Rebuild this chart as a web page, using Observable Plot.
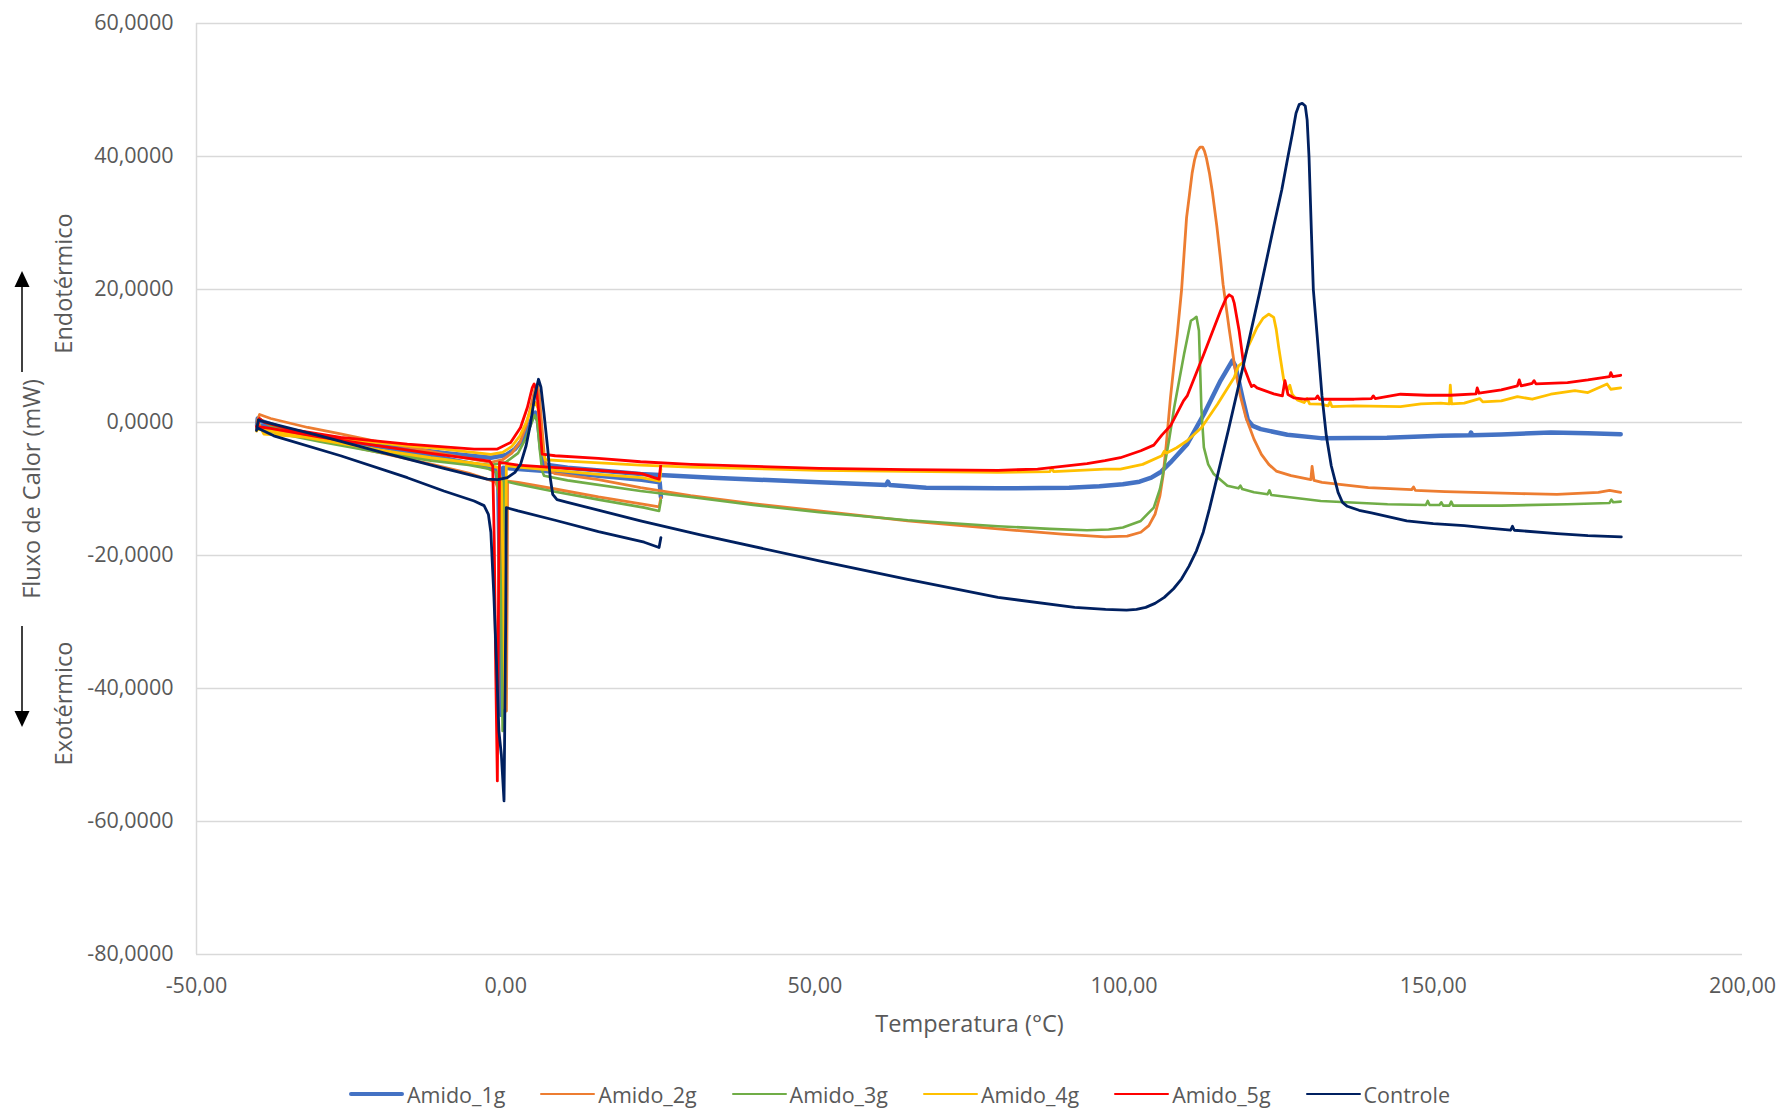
<!DOCTYPE html>
<html>
<head>
<meta charset="utf-8">
<script src="https://cdn.jsdelivr.net/npm/d3@7"></script>
<script src="https://cdn.jsdelivr.net/npm/@observablehq/plot@0.6"></script>
<style>
  body { margin: 0; background: #fff; font-family: "Open Sans", sans-serif; }
  #wrap { position: relative; width: 1782px; height: 1111px; overflow: hidden; }
  #legend { position: absolute; left: 0; top: 1077px; width: 1782px; height: 34px; }
  .item { position: absolute; top: 0; height: 34px; display: flex; align-items: center;
          font-size: 21.5px; color: #595959; white-space: nowrap; }
  .sw { display: inline-block; width: 55px; margin-right: 3px; border-radius: 2px; }
</style>
</head>
<body>
<div id="wrap"><div id="legend"></div></div>
<script>
// ---------------- DATA (temperature °C, heat flow mW), in acquisition order ----------------
const seriesNames = ["Amido_1g", "Amido_2g", "Amido_3g", "Amido_4g", "Amido_5g", "Controle"];
const seriesColors = ["#4472C4", "#ED7D31", "#70AD47", "#FFC000", "#FF0000", "#002060"];
const seriesWidths = [4.5, 2.8, 2.6, 2.8, 2.8, 2.8];

const xTicks = [-50, 0, 50, 100, 150, 200];
const yTicks = [-80, -60, -40, -20, 0, 20, 40, 60];

const amido1g = [
  [25.1,-11.2],[24.9,-9.0],[22,-8.6],[15,-8.0],[8,-7.4],[2,-7.0],[-0.4,-6.8],[-0.55,-25],[-0.7,-44],[-0.9,-26],[-1.2,-9],[-1.6,-7.0],[-5,-6.3],[-12,-5.0],[-20,-3.7],[-30,-2.2],[-38,-0.8],[-40.2,-0.4],
  [-40.1,0.6],[-39.5,0.2],[-35,-1.2],[-30,-2.0],[-20,-3.4],[-10,-4.6],[-2.4,-5.3],[0,-4.9],[1.5,-4.0],[2.8,-2.5],[3.8,-0.5],[4.5,1.2],[4.8,1.5],[5.2,0.3],[5.7,-4],[6.2,-6.3],[10,-6.8],[21.8,-7.75],[33.4,-8.3],[50.7,-9.0],[61.5,-9.4],[61.8,-8.9],[62.1,-9.4],[68,-9.8],[79.6,-9.9],[91.1,-9.8],[96,-9.6],[99.8,-9.3],[102.5,-8.9],[104.4,-8.3],[106,-7.4],[107.5,-6.0],[110.2,-3.25],[112.9,1.25],[115.6,6.3],[117.5,9.3],[118,8.5],[118.6,6.0],[119.2,3.5],[120,0.4],[120.8,-0.5],[122.1,-1.0],[126.4,-1.85],[131.8,-2.35],[142.5,-2.3],[151.2,-2.0],[155.9,-1.9],[156.1,-1.5],[156.3,-1.9],[161,-1.8],[169,-1.5],[175,-1.6],[180.3,-1.75]
];
const amido2g = [
  [25.1,-11.3],[24.8,-12.7],[22.4,-12.3],[15,-11.2],[8,-10.0],[2,-9.0],[0.3,-8.8],[0.25,-25],[0.12,-43.4],[-0.3,-25],[-0.9,-11],[-1.6,-9.0],[-2.4,-8.7],[-6,-7.6],[-12.1,-6.25],[-20,-4.6],[-30,-2.6],[-38,-1.0],[-40.2,-0.6],
  [-40.2,0.2],[-39.8,1.2],[-38,0.6],[-32,-0.75],[-26.7,-1.7],[-21.3,-2.75],[-15,-3.8],[-10,-4.75],[-5,-5.6],[-2.4,-6.0],[-0.5,-5.6],[1,-4.6],[2.3,-3.0],[3.3,-0.5],[4.2,3.0],[4.8,5.3],[5.1,5.6],[5.4,4.5],[5.8,0],[6.2,-4.5],[6.6,-7.0],[8,-7.7],[15,-8.6],[21.8,-9.8],[29.9,-11.0],[40,-12.2],[50.7,-13.3],[65,-14.8],[79.6,-16.0],[90,-16.8],[96.9,-17.2],[100.5,-17.1],[102.7,-16.5],[104,-15.5],[105,-13.8],[105.8,-11],[106.3,-8],[106.8,-3.5],[107.5,3.75],[108.1,9],[108.6,13.3],[109.3,20],[110.1,30.8],[110.6,34.5],[111,37.5],[111.4,39.5],[111.8,40.8],[112.3,41.4],[112.7,41.4],[113.0,40.8],[113.3,39.8],[113.8,37.5],[114.3,34.5],[115,29.5],[115.6,24.5],[116,20.8],[117,14],[117.9,8.3],[118.8,4],[119.7,0.75],[121,-2.5],[122.2,-4.8],[123.4,-6.3],[124.6,-7.3],[127,-8.0],[130.2,-8.6],[130.4,-6.6],[130.7,-8.7],[132,-9.0],[139.5,-9.8],[146.5,-10.1],[146.8,-9.7],[147.1,-10.2],[151.9,-10.4],[164.3,-10.7],[170,-10.8],[176.7,-10.5],[178.5,-10.2],[180.3,-10.5]
];
const amido3g = [
  [25.1,-11.7],[24.8,-13.3],[22.4,-12.8],[15,-11.6],[8,-10.4],[2,-9.3],[0.6,-9.0],[-0.3,-8.8],[-0.4,-25],[-0.5,-46.4],[-0.7,-30],[-1.0,-12],[-1.5,-7.5],[-3,-6.9],[-6,-6.4],[-12.1,-5.75],[-20,-4.6],[-30,-2.9],[-38,-1.4],[-40.2,-1.0],
  [-40.2,-0.4],[-39.8,0.5],[-38,-0.5],[-30,-2.6],[-20,-4.3],[-10,-5.7],[-2.4,-6.4],[0,-6.0],[2,-4.6],[3.3,-2.3],[4.2,0.0],[4.7,1.1],[5.1,0.2],[5.5,-4],[5.9,-7.3],[6.2,-8.0],[10,-8.7],[21.8,-10.3],[29.9,-11.2],[40,-12.4],[50.7,-13.5],[65,-14.7],[79.6,-15.6],[88,-16.0],[94,-16.2],[97.5,-16.1],[99.8,-15.8],[102.7,-14.8],[104.8,-12.8],[105.8,-10],[106.5,-6.75],[107.3,-2.5],[108.1,2.25],[109.7,10.3],[110.4,13.5],[110.8,15.3],[111.3,15.6],[111.7,15.9],[112.1,13.8],[112.3,8],[112.5,2.0],[112.9,-3.75],[113.6,-6.3],[114.5,-7.75],[116.7,-9.5],[118.5,-9.9],[118.8,-9.5],[119.1,-10.0],[121,-10.5],[123.2,-10.8],[123.5,-10.2],[123.8,-10.9],[131.8,-11.8],[142.6,-12.3],[148.8,-12.4],[149.1,-11.8],[149.4,-12.4],[151,-12.4],[151.3,-12.0],[151.6,-12.5],[152.6,-12.5],[152.9,-11.9],[153.2,-12.5],[161,-12.5],[171.7,-12.3],[178.5,-12.1],[178.8,-11.6],[179.1,-12.0],[180.3,-11.9]
];
const amido4g = [
  [25.1,-7.0],[24.9,-8.8],[22,-8.3],[15,-7.8],[8,-7.2],[2,-6.7],[0.1,-6.5],[0.0,-25],[-0.15,-43],[-0.35,-25],[-0.7,-9],[-1.2,-6.8],[-3,-6.4],[-6,-6.0],[-12.1,-5.3],[-20,-4.2],[-30,-2.6],[-38,-1.3],[-40.2,-1.0],
  [-40.3,-1.3],[-39.9,-0.3],[-39.1,-1.75],[-35,-2.0],[-30,-2.4],[-21.3,-3.0],[-10,-4.0],[-2.4,-4.8],[-0.5,-4.5],[1,-3.6],[2.3,-2.0],[3.3,0],[4.2,2.3],[4.8,3.0],[5.2,2.2],[5.6,-1],[6.0,-4.5],[6.4,-5.6],[10,-5.8],[21.8,-6.4],[29.9,-6.7],[50.7,-7.2],[79.6,-7.5],[88,-7.4],[88.3,-6.8],[88.6,-7.4],[96.9,-7.0],[99.4,-7.0],[103,-6.3],[106.1,-5.0],[106.5,-4.3],[106.9,-4.6],[108.5,-3.8],[110.2,-2.75],[112.5,-0.8],[115.1,2.75],[117.8,6.75],[118.5,8.5],[119.2,9.0],[120,11.3],[121.5,14.3],[122.5,15.7],[123.4,16.3],[124.2,15.8],[124.6,14],[125,11.3],[125.8,6.5],[126.4,4.8],[126.8,5.6],[127.2,4.2],[128,3.4],[129.1,3.0],[129.6,3.6],[130,2.8],[131.8,2.75],[133,2.5],[133.3,3.1],[133.6,2.4],[137.2,2.5],[144.7,2.4],[148,2.8],[151.2,2.9],[152.6,2.8],[152.75,5.6],[152.95,2.8],[155,2.9],[157.5,3.6],[158,3.1],[161,3.25],[163.6,3.9],[166,3.5],[169,4.25],[172.9,4.8],[175,4.5],[178.1,5.8],[178.7,5.0],[180.3,5.2]
];
const amido5g = [
  [25.1,-6.2],[24.8,-8.5],[24,-8.3],[22,-7.7],[15,-7.2],[8,-6.8],[2,-6.4],[-1.0,-6.0],[-1.15,-25],[-1.35,-53.9],[-1.6,-38],[-1.85,-18],[-2.1,-6.5],[-2.6,-5.8],[-5,-5.5],[-12.1,-4.65],[-20,-3.6],[-30,-2.2],[-38,-0.9],[-40.3,-0.6],
  [-40.2,-0.9],[-39.8,0.6],[-39,0.0],[-35,-1.0],[-26.7,-2.25],[-15.9,-3.25],[-5.1,-4.0],[-1.35,-4.0],[0.8,-3.0],[2.4,-0.75],[3.5,2.25],[4.3,5.25],[4.6,5.8],[5.0,4.8],[5.4,1.0],[5.9,-4.75],[8,-5.0],[15,-5.4],[21.8,-5.9],[29.9,-6.3],[50.7,-6.9],[65,-7.1],[79.6,-7.2],[86,-7.0],[91.1,-6.5],[94,-6.2],[96.9,-5.75],[99.4,-5.3],[102.7,-4.25],[104.8,-3.4],[106.1,-1.9],[107.5,-0.5],[109.6,3.25],[110.2,4.0],[112.9,10.3],[115.6,16.8],[116.5,18.7],[117,19.2],[117.5,18.9],[117.8,18.0],[118.6,13.8],[119.4,8.3],[120.2,6.3],[120.6,5.4],[121.0,5.6],[121.5,5.2],[124.2,4.3],[125.6,4.0],[126.0,6.3],[126.5,4.2],[127.5,3.7],[129.1,3.5],[131,3.6],[131.3,4.0],[131.6,3.5],[137.2,3.5],[140,3.6],[140.3,4.0],[140.6,3.6],[144.7,4.25],[149,4.1],[152.8,4.1],[156.9,4.3],[157.1,5.2],[157.4,4.4],[161,4.9],[163.6,5.5],[163.9,6.4],[164.2,5.5],[166,5.9],[166.3,6.3],[166.6,5.8],[171.7,6.0],[175,6.4],[178.5,6.9],[178.7,7.5],[179,6.9],[180.3,7.1]
];
const controle = [
  [25.1,-17.3],[24.8,-18.8],[22.4,-18.0],[15,-16.4],[8,-14.7],[2,-13.3],[0.1,-12.8],[0.0,-30],[-0.27,-56.9],[-0.7,-50],[-1.1,-46.4],[-1.5,-36],[-1.9,-26.3],[-2.4,-16.5],[-2.8,-13.8],[-3.5,-12.5],[-5.1,-11.8],[-10,-10.3],[-15.9,-8.3],[-26.7,-5.0],[-37.5,-2.0],[-40.2,-0.8],
  [-40.3,-1.2],[-40.0,0.4],[-39.6,0.26],[-30,-2.0],[-20,-4.5],[-10,-6.9],[-3,-8.5],[-1.3,-8.6],[0.27,-8.3],[1.5,-7.5],[2.4,-6.3],[3.3,-3.5],[4.0,-0.25],[4.7,4.0],[5.3,6.5],[5.7,5.3],[6.2,1.3],[6.8,-4],[7.2,-8.3],[7.6,-10.8],[8.3,-11.6],[10,-12.0],[21.8,-14.8],[31.5,-16.9],[50.7,-20.8],[65,-23.6],[79.6,-26.3],[92,-27.8],[97,-28.1],[100.4,-28.2],[102,-28.1],[103.5,-27.8],[105,-27.2],[106.5,-26.3],[108,-25.0],[109.3,-23.5],[110.5,-21.6],[111.7,-19.3],[112.8,-16.5],[113.8,-13.0],[115.1,-8.0],[116.9,-1.0],[119.5,9.5],[121.9,19.5],[124.2,29.5],[125.5,35],[126.5,40],[127.2,43.4],[127.8,46.5],[128.3,47.8],[128.8,48.0],[129.3,47.6],[129.6,45.5],[129.9,40],[130.3,28.3],[130.6,20],[131.2,13.3],[132.0,4],[132.7,-2],[133.5,-6.5],[134.6,-10.5],[135.3,-12.0],[136.1,-12.6],[138,-13.2],[140,-13.6],[145.7,-14.8],[150,-15.2],[155,-15.5],[158.1,-15.8],[162.5,-16.2],[162.8,-15.6],[163.1,-16.2],[170,-16.7],[175,-17.0],[180.4,-17.2]
];
const seriesData = [amido1g, amido2g, amido3g, amido4g, amido5g, controle];

// ---------------- CHART ----------------
const fmtX = d => d.toFixed(2).replace(".", ",");
const fmtY = d => d.toFixed(4).replace(".", ",");
const textColor = "#595959";
const gridColor = "#d9d9d9";

const lineMarks = seriesData.map((pts, i) =>
  Plot.line(pts.map(([t, v]) => ({t, v, s: seriesNames[i]})), {
    x: "t", y: "v", stroke: seriesColors[i], strokeWidth: seriesWidths[i],
    strokeLinejoin: "round", strokeLinecap: "round"
  })
);

const chart = Plot.plot({
  width: 1782,
  height: 1060,
  marginLeft: 196,
  marginRight: 40,
  marginTop: 23,
  marginBottom: 106,
  style: {background: "white", color: textColor, fontFamily: "'Open Sans', sans-serif", fontSize: "21.5px", overflow: "visible"},
  x: {domain: [-50, 200]},
  y: {domain: [-80, 60]},
  marks: [
    Plot.gridY(yTicks, {stroke: gridColor, strokeOpacity: 1, strokeWidth: 1.5}),
    Plot.ruleX([-50], {stroke: gridColor, strokeWidth: 1.5}),
    Plot.axisY({ticks: yTicks, tickSize: 0, tickPadding: 23, tickFormat: fmtY, label: null, fill: textColor}),
    Plot.axisX({ticks: xTicks, tickSize: 0, tickPadding: 23, tickFormat: fmtX, label: null, fill: textColor}),
    ...lineMarks,
    Plot.text(["Temperatura (°C)"], {frameAnchor: "bottom", dy: 70, lineAnchor: "middle", textAnchor: "middle", fill: textColor, fontSize: 23.5}),
    Plot.text(["Fluxo de Calor (mW)"], {frameAnchor: "left", dx: -164, lineAnchor: "middle", textAnchor: "middle", rotate: -90, fill: textColor, fontSize: 23.5}),
    Plot.text(["Endotérmico"], {frameAnchor: "left", dx: -132, dy: -205.5, lineAnchor: "middle", textAnchor: "middle", rotate: -90, fill: textColor, fontSize: 23.5}),
    Plot.text(["Exotérmico"], {frameAnchor: "left", dx: -132, dy: 214.5, lineAnchor: "middle", textAnchor: "middle", rotate: -90, fill: textColor, fontSize: 23.5})
  ]
});

// direction arrows beside the y title
const svg = d3.select(chart);
const g = svg.append("g").attr("fill", "#000").attr("stroke", "#000");
g.append("line").attr("x1", 22).attr("y1", 372).attr("x2", 22).attr("y2", 285).attr("stroke-width", 1.5);
g.append("path").attr("d", "M22,271 L14.5,287 L29.5,287 Z").attr("stroke", "none");
g.append("line").attr("x1", 22).attr("y1", 626).attr("x2", 22).attr("y2", 713).attr("stroke-width", 1.5);
g.append("path").attr("d", "M22,727 L14.5,711 L29.5,711 Z").attr("stroke", "none");

const wrap = document.getElementById("wrap");
wrap.insertBefore(chart, wrap.firstChild);

// legend below the chart
const legend = d3.select("#legend");
seriesNames.forEach((name, i) => {
  const item = legend.append("div").attr("class", "item").style("left", (349 + i * 191.3) + "px");
  item.append("span").attr("class", "sw")
    .style("height", seriesWidths[i] + "px")
    .style("background", seriesColors[i]);
  item.append("span").text(name);
});
</script>
</body>
</html>
